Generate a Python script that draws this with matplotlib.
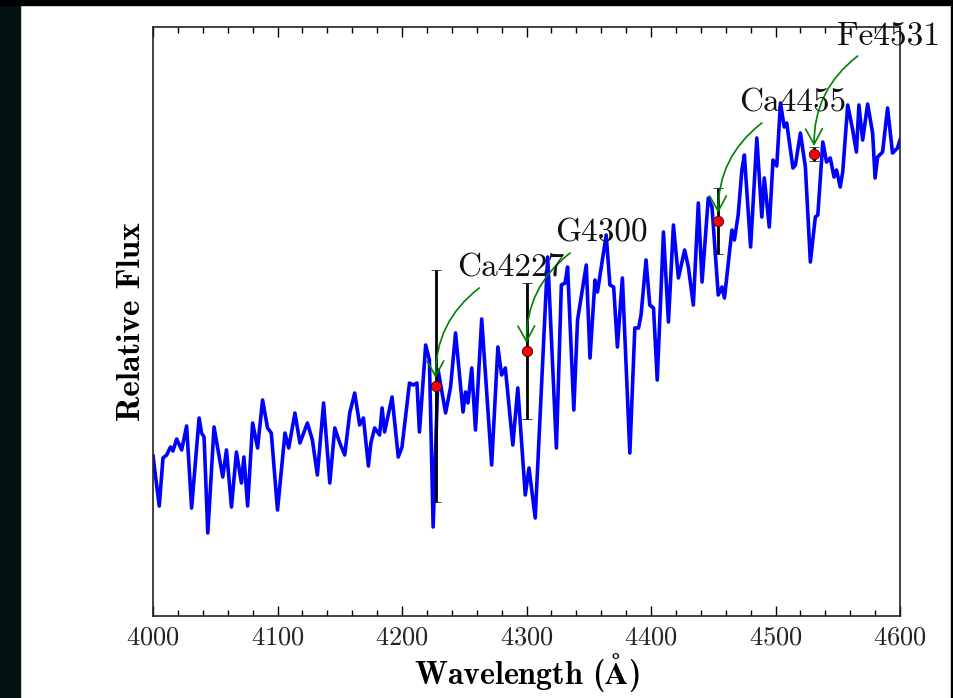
import matplotlib
matplotlib.use("Agg")
import matplotlib.pyplot as plt
from matplotlib.patches import Rectangle
from matplotlib.ticker import MultipleLocator

plt.rcParams['font.family'] = 'serif'
plt.rcParams['font.serif'] = ['cmr10']
plt.rcParams['mathtext.fontset'] = 'cm'
plt.rcParams['axes.formatter.use_mathtext'] = True

# spectrum (wavelength in A, relative flux)
wavelength = [4000, 4005, 4008, 4011, 4014, 4016, 4019, 4023, 4027, 4031,
              4037, 4039, 4041, 4044, 4049, 4056, 4059, 4063, 4067, 4071,
              4073, 4076, 4080, 4084, 4088, 4092, 4095, 4100, 4106, 4109,
              4114, 4118, 4124, 4128, 4132, 4137, 4142, 4146, 4150, 4154,
              4158, 4162, 4166, 4169, 4173, 4175, 4178, 4182, 4184, 4186,
              4192, 4197, 4200, 4206, 4209, 4212, 4214, 4219, 4222, 4225,
              4229, 4235, 4239, 4243, 4249, 4251, 4253, 4256, 4259, 4264,
              4272, 4277, 4280, 4283, 4289, 4293, 4299, 4302, 4307, 4317,
              4324, 4328, 4331, 4333, 4338, 4341, 4348, 4351, 4355, 4357,
              4364, 4367, 4370, 4373, 4377, 4383, 4387, 4390, 4392, 4396,
              4399, 4402, 4405, 4410, 4414, 4418, 4422, 4427, 4430, 4434,
              4438, 4441, 4446, 4449, 4454, 4457, 4459, 4465, 4467, 4470,
              4473, 4475, 4480, 4485, 4489, 4491, 4495, 4498, 4501, 4504,
              4507, 4509, 4514, 4516, 4520, 4524, 4528, 4532, 4534, 4538,
              4541, 4544, 4547, 4549, 4552, 4554, 4558, 4562, 4565, 4567,
              4570, 4574, 4578, 4580, 4582, 4586, 4590, 4594, 4598, 4600]
flux = [1.60, 1.10, 1.58, 1.61, 1.69, 1.65, 1.77, 1.66, 1.90, 1.08,
        1.98, 1.83, 1.79, 0.83, 1.89, 1.39, 1.66, 1.09, 1.64, 1.33,
        1.59, 1.10, 1.93, 1.68, 2.16, 1.88, 1.83, 1.06, 1.83, 1.68,
        2.03, 1.73, 1.93, 1.76, 1.41, 2.13, 1.33, 1.88, 1.73, 1.61,
        2.03, 2.23, 1.91, 1.98, 1.50, 1.73, 1.88, 1.81, 2.08, 1.84,
        2.19, 1.59, 1.69, 2.33, 2.31, 2.33, 1.84, 2.71, 2.56, 0.89,
        2.46, 2.03, 2.29, 2.83, 2.04, 2.24, 2.13, 2.48, 1.86, 2.97,
        1.51, 2.69, 2.41, 2.48, 1.71, 2.28, 1.21, 1.48, 0.98, 3.59,
        1.68, 3.31, 3.33, 3.49, 2.06, 2.96, 3.51, 2.58, 3.36, 3.24,
        3.81, 3.31, 3.29, 2.69, 3.38, 1.63, 2.88, 2.88, 3.01, 3.56,
        3.11, 3.08, 2.36, 3.84, 2.94, 3.91, 3.38, 3.66, 3.49, 3.11,
        4.13, 3.34, 4.18, 4.09, 3.21, 3.29, 3.18, 3.86, 3.76, 4.01,
        4.46, 4.61, 3.69, 4.78, 3.99, 4.38, 3.89, 4.56, 4.50, 5.13,
        4.89, 4.93, 4.48, 4.51, 4.83, 4.49, 3.54, 3.99, 4.01, 4.74,
        4.54, 4.58, 4.39, 4.46, 4.29, 4.44, 5.11, 4.86, 4.64, 5.11,
        4.76, 5.12, 4.83, 4.38, 4.59, 4.64, 5.08, 4.63, 4.68, 4.76]

# Lick indices marked on the spectrum
index_names = ['Ca4227', 'G4300', 'Ca4455', 'Fe4531']
index_wave = [4227, 4300, 4454, 4531]
index_flux = [2.30, 2.65, 3.95, 4.62]
index_err = [1.16, 0.68, 0.33, 0.07]

fig = plt.figure(figsize=(9.54, 6.98), dpi=100)
# dark slide background showing at the edges of the screenshot
fig.add_artist(Rectangle((0, 0), 0.021, 1, transform=fig.transFigure, color='#041212', zorder=-5))
fig.add_artist(Rectangle((0, 0.993), 1, 0.007, transform=fig.transFigure, color='black', zorder=-5))
fig.add_artist(Rectangle((0.997, 0), 0.003, 1, transform=fig.transFigure, color='black', zorder=-5))

ax = fig.add_axes([0.1604, 0.1175, 0.783, 0.8438])
ax.plot(wavelength, flux, color='blue', lw=2.6, zorder=2)
ax.errorbar(index_wave, index_flux, yerr=index_err, fmt='o', color='black',
            ecolor='black', elinewidth=2.0, capsize=3.5, capthick=1.2,
            markerfacecolor='red', markeredgecolor='black', markeredgewidth=0.5,
            markersize=7.5, zorder=4)

for name, w, f in zip(index_names, index_wave, index_flux):
    ax.annotate('', xy=(w, f + 0.08), xytext=(w + 35, f + 0.98),
                arrowprops=dict(arrowstyle='->,head_length=0.55,head_width=0.3',
                                color='green', lw=1.2, mutation_scale=20,
                                shrinkA=0, shrinkB=0,
                                connectionstyle='arc3,rad=0.25'),
                zorder=5)
    ax.text(w + 60, f + 1.1, name, ha='center', va='baseline', fontsize=24,
            color='#111111', clip_on=False, zorder=6)

ax.set_xlim(4000, 4600)
ax.set_ylim(0, 5.89)
ax.xaxis.set_major_locator(MultipleLocator(100))
ax.xaxis.set_minor_locator(MultipleLocator(20))
ax.set_yticks([])
ax.tick_params(axis='x', which='both', direction='in', top=True, labelsize=19,
               pad=7, labelcolor='#222222')
ax.tick_params(axis='x', which='major', length=7, width=1)
ax.tick_params(axis='x', which='minor', length=4, width=1)
for s in ax.spines.values():
    s.set_linewidth(1.2)
    s.set_color('#222222')

ax.set_xlabel(r'Wavelength ($\mathbf{\AA}$)', family='cmb10', fontsize=23, labelpad=1)
ax.set_ylabel('Relative Flux', family='cmb10', fontsize=24, labelpad=5)

fig.savefig('out.png', dpi=100)
